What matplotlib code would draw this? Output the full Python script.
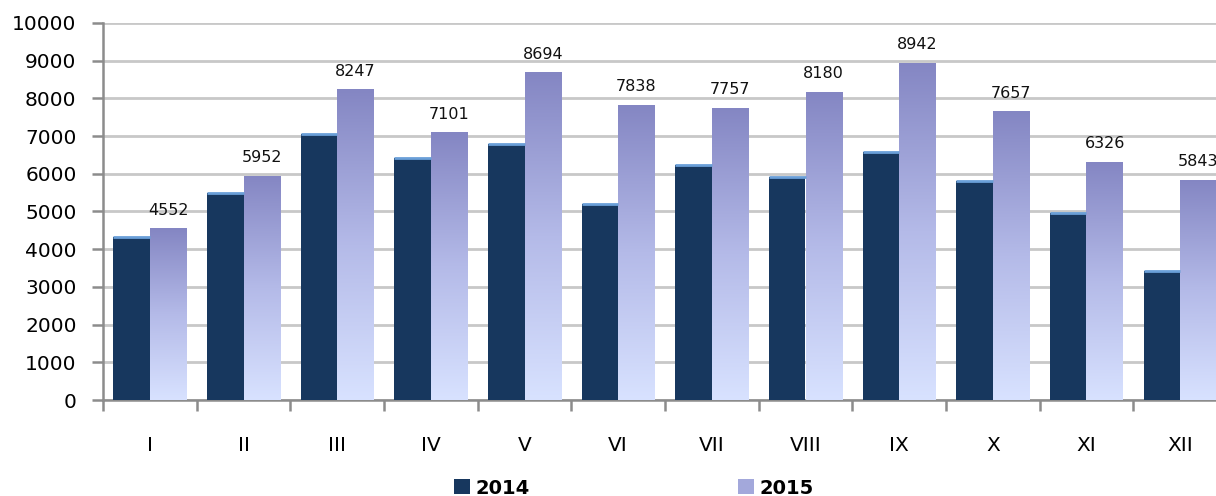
import matplotlib
matplotlib.use("Agg")
import matplotlib.pyplot as plt
import numpy as np
from matplotlib.colors import LinearSegmentedColormap
from matplotlib.patches import Patch

months = ["I", "II", "III", "IV", "V", "VI", "VII", "VIII", "IX", "X", "XI", "XII"]
values_2014 = [4320, 5490, 7050, 6420, 6800, 5200, 6240, 5920, 6580, 5820, 4950, 3420]
values_2015 = [4552, 5952, 8247, 7101, 8694, 7838, 7757, 8180, 8942, 7657, 6326, 5843]
series_names = ["2014", "2015"]
yticks = list(range(0, 10001, 1000))

plt.rcParams['font.family'] = ['DejaVu Sans']

W, H = 1216, 496
fig = plt.figure(figsize=(W / 100, H / 100), dpi=100)
ax = fig.add_axes([103 / W, 1 - 400 / H, (1227 - 103) / W, (400 - 23) / H])

x = np.arange(len(months))
bw = 0.39
dark = "#17375E"
hl = "#6A9FD8"
cmap = LinearSegmentedColormap.from_list("g", ["#D8E2FF", "#B4BAE8", "#8486C3"])

bars14 = ax.bar(x - bw / 2, values_2014, width=bw, color=dark, zorder=3)
ax.hlines(values_2014, x - bw, x, colors=hl, linewidth=2.0, zorder=4)

bars15 = ax.bar(x + bw / 2, values_2015, width=bw, color="none", zorder=3)
grad = np.linspace(0, 1, 256).reshape(-1, 1)
for b, v in zip(bars15, values_2015):
    x0 = b.get_x()
    im = ax.imshow(grad, extent=[x0, x0 + bw, 0, v], origin="lower", cmap=cmap,
                   aspect="auto", zorder=3, interpolation="bicubic")
    im.set_clip_path(b)
    ax.text(x0 + bw / 2, v + 280, str(v), ha="center", va="bottom", fontsize=11.5,
            color="#111111", zorder=5)

ax.set_xlim(-0.5, len(months) - 0.5)
ax.set_ylim(0, 10000)
ax.set_yticks(yticks)
ax.set_yticklabels([str(t) for t in yticks], fontsize=14.5)
ax.yaxis.grid(True, color="#C8C8C8", linewidth=2, zorder=0)
ax.set_axisbelow(True)

ax.set_xticks(np.arange(-0.5, len(months), 1.0))
ax.set_xticklabels([])
ax.set_xticks(x, minor=True)
ax.set_xticklabels(months, minor=True, fontsize=14.5)
ax.tick_params(axis="x", which="major", length=8, width=1.8, color="#8C8C8C", direction="out")
ax.tick_params(axis="x", which="minor", length=0, pad=26)
ax.tick_params(axis="y", length=8, width=1.8, color="#8C8C8C", pad=11)

for s in ["top", "right"]:
    ax.spines[s].set_visible(False)
for s in ["left", "bottom"]:
    ax.spines[s].set_color("#8C8C8C")
    ax.spines[s].set_linewidth(1.8)

handles = [Patch(facecolor=dark), Patch(facecolor="#A3A8DB")]
leg = fig.legend(handles, series_names, loc="center", bbox_to_anchor=(634 / W, 1 - 488 / H),
                 ncol=2, frameon=False, columnspacing=10.7, handlelength=0.8, handleheight=0.8,
                 handletextpad=0.3, prop={"weight": "bold", "size": 14})

fig.savefig("out.png", dpi=100)
